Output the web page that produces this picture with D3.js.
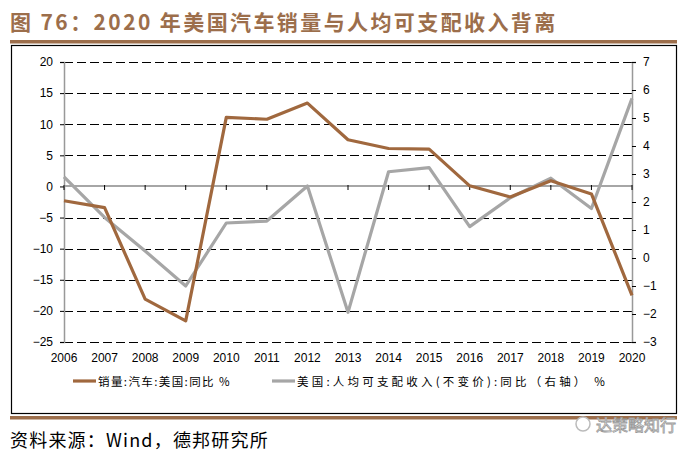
<!DOCTYPE html>
<html><head><meta charset="utf-8">
<script src="https://cdn.jsdelivr.net/npm/d3@7/dist/d3.min.js"></script>
<style>body{margin:0;background:#fff;}svg{display:block;}</style>
</head><body>
<svg id="c" width="696" height="455"></svg>
<script>
const years = ["2006","2007","2008","2009","2010","2011","2012","2013","2014","2015","2016","2017","2018","2019","2020"];
const carSales = [-2.3,-3.4,-18.1,-21.6,11.1,10.8,13.4,7.5,6.1,6.0,0.1,-1.7,0.9,-1.2,-17.5];
const income = [2.9,1.45,0.25,-1.0,1.25,1.32,2.57,-1.94,3.08,3.23,1.12,2.15,2.85,1.77,5.7];
const leftTicks = [20,15,10,5,0,-5,-10,-15,-20,-25];
const rightTicks = [7,6,5,4,3,2,1,0,-1,-2,-3];
const title = "图 76：2020 年美国汽车销量与人均可支配收入背离";
const source = "资料来源：Wind，德邦研究所";
const legendNames = ["销量:汽车:美国:同比 %","美国:人均可支配收入(不变价):同比（右轴） %"];

const brown = "#A0683E", grey = "#A6A6A6";
const svg = d3.select("#c");
const L = 64, R = 632, T = 62, B = 342;
const x = d3.scalePoint().domain(years).range([L, R]);
const yL = d3.scaleLinear().domain([-25,20]).range([B, T]);
const yR = d3.scaleLinear().domain([-3,7]).range([B, T]);

// title
svg.append("text").attr("x",10).attr("y",30).text(title)
  .attr("font-family","'Noto Sans CJK SC','Liberation Sans',sans-serif")
  .attr("font-weight","bold").attr("font-size",21).attr("letter-spacing",2.4).attr("fill","#9C6E4B");
svg.append("rect").attr("x",10).attr("y",40).attr("width",667).attr("height",3.5).attr("fill","#9C6E4B");
svg.append("rect").attr("x",10).attr("y",416).attr("width",667).attr("height",3.5).attr("fill","#9C6E4B");
svg.append("rect").attr("x",11.5).attr("y",45.5).attr("width",665).attr("height",368)
  .attr("fill","none").attr("stroke","#000").attr("stroke-width",1.2);

// gridlines
svg.append("g").selectAll("line").data(leftTicks.filter(d=>d!==0)).join("line")
  .attr("x1",L).attr("x2",R).attr("y1",d=>Math.round(yL(d))+0.5).attr("y2",d=>Math.round(yL(d))+0.5)
  .attr("stroke","#000").attr("stroke-width",1).attr("stroke-dasharray","9,4");

// left axis
const la = svg.append("g").attr("transform",`translate(${L},0)`)
  .call(d3.axisLeft(yL).tickValues(leftTicks).tickSize(4).tickFormat(d=>d<0?"\u2212"+(-d):d));
la.select(".domain").attr("stroke","#999").attr("stroke-width",1.5);
la.selectAll(".tick line").attr("stroke","#000");
la.selectAll("text").attr("font-family","'Liberation Sans',Arial,sans-serif").attr("font-size",12).attr("fill","#000").attr("dx",-4);

// right axis
const ra = svg.append("g").attr("transform",`translate(${R},0)`)
  .call(d3.axisRight(yR).tickValues(rightTicks).tickSize(4).tickFormat(d=>d<0?"\u2212"+(-d):d));
ra.select(".domain").attr("stroke","#999").attr("stroke-width",1.5);
ra.selectAll(".tick line").attr("stroke","#000");
ra.selectAll("text").attr("font-family","'Liberation Sans',Arial,sans-serif").attr("font-size",12).attr("fill","#000").attr("dx",4);

// zero axis
const y0 = Math.round(yL(0));
svg.append("line").attr("x1",L).attr("x2",R).attr("y1",y0).attr("y2",y0).attr("stroke","#A6A6A6").attr("stroke-width",2);
svg.append("g").attr("transform",`translate(0,${y0})`).selectAll("line").data(years).join("line")
  .attr("x1",d=>x(d)).attr("x2",d=>x(d)).attr("y1",-1).attr("y2",4).attr("stroke","#000").attr("stroke-width",1);

// x labels
svg.append("g").selectAll("text").data(years).join("text")
  .attr("x",d=>x(d)).attr("y",362).attr("text-anchor","middle").text(d=>d)
  .attr("font-family","'Liberation Sans',Arial,sans-serif").attr("font-size",12).attr("fill","#000");

// lines
const lineL = d3.line().x((d,i)=>x(years[i])).y(d=>yL(d));
const lineR = d3.line().x((d,i)=>x(years[i])).y(d=>yR(d));
svg.append("path").datum(income).attr("d",lineR).attr("fill","none").attr("stroke",grey).attr("stroke-width",3.2).attr("stroke-linejoin","round");
svg.append("path").datum(carSales).attr("d",lineL).attr("fill","none").attr("stroke",brown).attr("stroke-width",3.2).attr("stroke-linejoin","round");

// legend
const lg = [{c:brown,x:73,t:legendNames[0],ls:1.4},{c:grey,x:272,t:legendNames[1],ls:3.2}];
lg.forEach(d=>{
  svg.append("line").attr("x1",d.x).attr("x2",d.x+23).attr("y1",381).attr("y2",381).attr("stroke",d.c).attr("stroke-width",3.2);
  svg.append("text").attr("x",d.x+25).attr("y",385.5).text(d.t).attr("letter-spacing",d.ls)
    .attr("font-family","'Noto Sans CJK SC',sans-serif").attr("font-size",11.5).attr("fill","#000");
});

// source
svg.append("text").attr("x",10).attr("y",447).text(source).attr("letter-spacing",1.2)
  .attr("font-family","'Noto Sans CJK SC','Liberation Sans',sans-serif").attr("font-size",18).attr("fill","#000");
// watermark
svg.append("circle").attr("cx",583).attr("cy",424).attr("r",7).attr("fill","#fff").attr("stroke","#bbb").attr("stroke-width",1.5);
svg.append("text").attr("x",596).attr("y",431).text("达策略知行")
  .attr("font-family","'Noto Sans CJK SC',sans-serif").attr("font-size",16).attr("fill","#fff")
  .attr("stroke","#999").attr("stroke-width",0.8);
</script>
</body></html>
